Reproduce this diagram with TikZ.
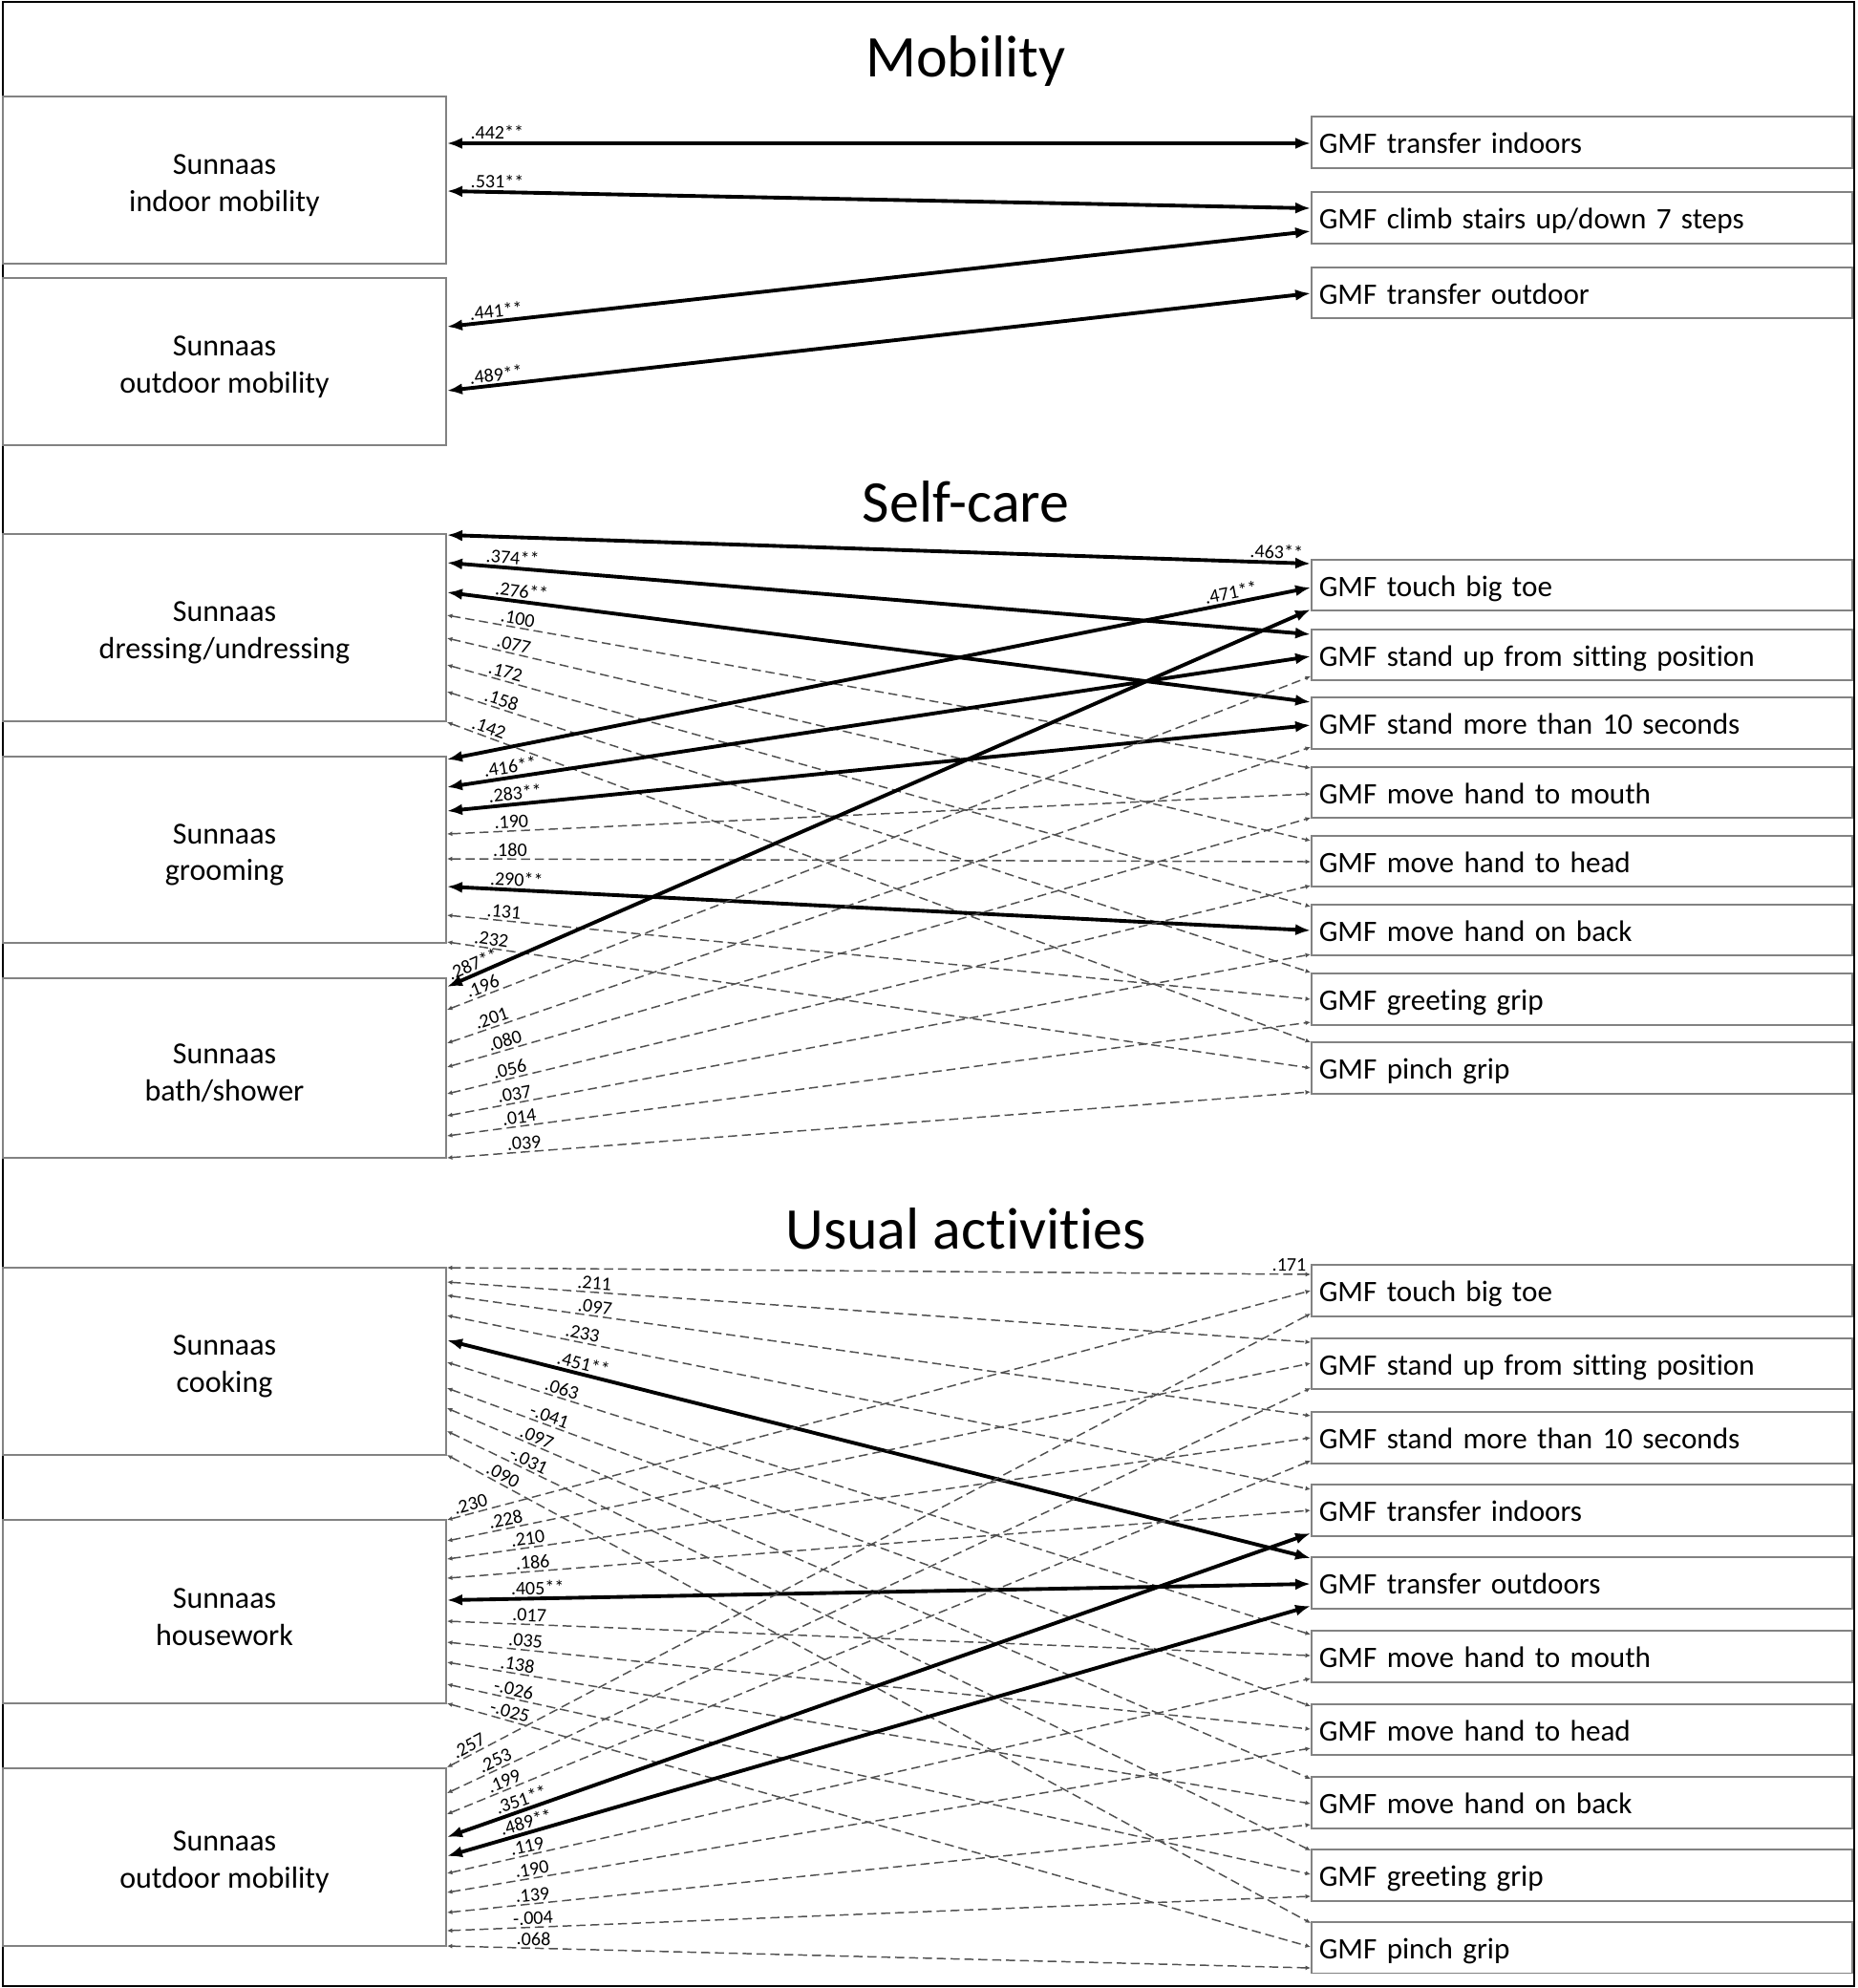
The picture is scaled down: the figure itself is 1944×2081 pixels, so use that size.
\documentclass[tikz,border=0pt]{standalone}
\usepackage{fontspec}
\setmainfont{Carlito}[Ligatures=NoCommon]
\usetikzlibrary{arrows.meta}
\definecolor{boxgray}{RGB}{130,130,130}
\definecolor{dashgray}{RGB}{80,80,80}
\newcommand\lk[7]{\draw[#1] (#2.east |- 0,#3) -- node[lbl,pos=#7]{#6} (#4.west |- 0,#5);}
\newcommand\dn[1]{\raisebox{-0.055cm}[\height][\depth]{#1}}
\begin{document}
\begin{tikzpicture}[x=0.01cm,y=-0.01cm,
  lbox/.style={draw=boxgray, line width=0.45pt, minimum width=4.64cm, align=center,
    font=\fontsize{9.1}{11}\selectfont, inner sep=0pt},
  rbox/.style={draw=boxgray, line width=0.45pt, minimum width=5.66cm, minimum height=0.535cm,
    text width=5.5cm, align=left, inner xsep=0.08cm, inner ysep=0pt,
    text height=0.25cm, text depth=0.02cm,
    font=\fontsize{8.85}{11}\selectfont},
  title/.style={font=\fontsize{17.6}{20}\selectfont, anchor=base},
  lbl/.style={font=\fontsize{5.7}{6}\selectfont, sloped, above, inner sep=0.6pt, text=black},
  sol/.style={draw=black, line width=1.1pt,
    {Latex[length=0.16cm,width=0.12cm]}-{Latex[length=0.16cm,width=0.12cm]}},
  das/.style={draw=dashgray, line width=0.42pt, dash pattern=on 0.095cm off 0.05cm,
    {Latex[length=0.055cm,width=0.05cm]}-{Latex[length=0.055cm,width=0.05cm]}}
]
\useasboundingbox (0,0) rectangle (1944,2081);
\draw[line width=0.6pt] (3,2) rectangle (1941,2079);

% ---------------- Mobility ----------------
\node[title] (tmob) at (1011,80) {Mobility};
\node[lbox, minimum height=1.75cm] (min) at (235,188.5) {\dn{Sunnaas}\\\dn{indoor mobility}};
\node[lbox, minimum height=1.75cm] (mout) at (235,378.5) {\dn{Sunnaas}\\\dn{outdoor mobility}};
\node[rbox] (mtrin) at (1656,149) {GMF transfer indoors};
\node[rbox] (mstairs) at (1656,228) {GMF climb stairs up/down 7 steps};
\node[rbox] (mtrout) at (1656,306.5) {GMF transfer outdoor};

\lk{sol}{min}{150}{mtrin}{150}{.442**}{0.058}
\lk{sol}{min}{200}{mstairs}{218}{.531**}{0.058}
\lk{sol}{mout}{342}{mstairs}{242}{.441**}{0.058}
\lk{sol}{mout}{409}{mtrout}{307}{.489**}{0.058}

% ---------------- Self-care ----------------
\node[title] (tself) at (1011,546) {Self-care};
\node[lbox, minimum height=1.96cm] (sdress) at (235,657) {\dn{Sunnaas}\\\dn{dressing/undressing}};
\node[lbox, minimum height=1.95cm] (sgroom) at (235,889.5) {\dn{Sunnaas}\\\dn{grooming}};
\node[lbox, minimum height=1.88cm] (sbath) at (235,1118) {\dn{Sunnaas}\\\dn{bath/shower}};
\node[rbox] (stoe) at (1656,612.5) {GMF touch big toe};
\node[rbox] (sup) at (1656,685.5) {GMF stand up from sitting position};
\node[rbox] (smore) at (1656,757) {GMF stand more than 10 seconds};
\node[rbox] (smouth) at (1656,829.5) {GMF move hand to mouth};
\node[rbox] (shead) at (1656,901.5) {GMF move hand to head};
\node[rbox] (sback) at (1656,973.5) {GMF move hand on back};
\node[rbox] (sgreet) at (1656,1046) {GMF greeting grip};
\node[rbox] (spinch) at (1656,1118) {GMF pinch grip};

\lk{sol}{sdress}{560}{stoe}{590}{.463**}{0.96}
\lk{sol}{sdress}{589}{sup}{664}{.374**}{0.075}
\lk{sol}{sdress}{620}{smore}{735}{.276**}{0.085}
\lk{das}{sdress}{644}{smouth}{804}{.100}{0.08}
\lk{das}{sdress}{668}{shead}{880}{.077}{0.075}
\lk{das}{sdress}{696}{sback}{949}{.172}{0.065}
\lk{das}{sdress}{724}{sgreet}{1018}{.158}{0.06}
\lk{das}{sdress}{756}{spinch}{1091}{.142}{0.045}

\lk{sol}{sgroom}{795}{stoe}{615}{.471**}{0.91}
\lk{sol}{sgroom}{824}{sup}{687}{.416**}{0.075}
\lk{sol}{sgroom}{849}{smore}{759}{.283**}{0.08}
\lk{das}{sgroom}{873}{smouth}{831}{.190}{0.075}
\lk{das}{sgroom}{899}{shead}{902}{.180}{0.073}
\lk{sol}{sgroom}{928}{sback}{974}{.290**}{0.08}
\lk{das}{sgroom}{958}{sgreet}{1046}{.131}{0.065}
\lk{das}{sgroom}{986}{spinch}{1118}{.232}{0.05}

\lk{sol}{sbath}{1033}{stoe}{638}{.287**}{0.035}
\lk{das}{sbath}{1057}{sup}{708}{.196}{0.045}
\lk{das}{sbath}{1092}{smore}{782}{.201}{0.055}
\lk{das}{sbath}{1117}{smouth}{856}{.080}{0.07}
\lk{das}{sbath}{1145}{shead}{927}{.056}{0.075}
\lk{das}{sbath}{1168}{sback}{999}{.037}{0.08}
\lk{das}{sbath}{1189}{sgreet}{1070}{.014}{0.085}
\lk{das}{sbath}{1212}{spinch}{1143}{.039}{0.09}

% ---------------- Usual activities ----------------
\node[title] (tusual) at (1011,1307) {Usual activities};
\node[lbox, minimum height=1.96cm] (ucook) at (235,1425) {\dn{Sunnaas}\\\dn{cooking}};
\node[lbox, minimum height=1.92cm] (uhouse) at (235,1687) {\dn{Sunnaas}\\\dn{housework}};
\node[lbox, minimum height=1.86cm] (uout) at (235,1944) {\dn{Sunnaas}\\\dn{outdoor mobility}};
\node[rbox] (utoe) at (1656,1351) {GMF touch big toe};
\node[rbox] (uup) at (1656,1427.5) {GMF stand up from sitting position};
\node[rbox] (umore) at (1656,1505) {GMF stand more than 10 seconds};
\node[rbox] (utrin) at (1656,1581) {GMF transfer indoors};
\node[rbox] (utrout) at (1656,1657) {GMF transfer outdoors};
\node[rbox] (umouth) at (1656,1734) {GMF move hand to mouth};
\node[rbox] (uhead) at (1656,1810.5) {GMF move hand to head};
\node[rbox] (uback) at (1656,1887) {GMF move hand on back};
\node[rbox] (ugreet) at (1656,1963) {GMF greeting grip};
\node[rbox] (upinch) at (1656,2038.5) {GMF pinch grip};

\lk{das}{ucook}{1327}{utoe}{1334}{.171}{0.975}
\lk{das}{ucook}{1342}{uup}{1405}{.211}{0.17}
\lk{das}{ucook}{1356}{umore}{1482}{.097}{0.17}
\lk{das}{ucook}{1377}{utrin}{1559}{.233}{0.155}
\lk{sol}{ucook}{1403}{utrout}{1631}{.451**}{0.155}
\lk{das}{ucook}{1426}{umouth}{1711}{.063}{0.13}
\lk{das}{ucook}{1453}{uhead}{1786}{-.041}{0.115}
\lk{das}{ucook}{1474}{uback}{1862}{.097}{0.1}
\lk{das}{ucook}{1498}{ugreet}{1937}{-.031}{0.09}
\lk{das}{ucook}{1523}{upinch}{2013}{.090}{0.06}

\lk{das}{uhouse}{1591}{utoe}{1351}{.230}{0.03}
\lk{das}{uhouse}{1613}{uup}{1427}{.228}{0.07}
\lk{das}{uhouse}{1632}{umore}{1505}{.210}{0.095}
\lk{das}{uhouse}{1652}{utrin}{1581}{.186}{0.1}
\lk{sol}{uhouse}{1675}{utrout}{1658}{.405**}{0.105}
\lk{das}{uhouse}{1697}{umouth}{1733}{.017}{0.095}
\lk{das}{uhouse}{1719}{uhead}{1810}{.035}{0.09}
\lk{das}{uhouse}{1740}{uback}{1888}{.138}{0.08}
\lk{das}{uhouse}{1763}{ugreet}{1962}{-.026}{0.075}
\lk{das}{uhouse}{1783}{upinch}{2038}{-.025}{0.07}

\lk{das}{uout}{1850}{utoe}{1375}{.257}{0.03}
\lk{das}{uout}{1877}{uup}{1453}{.253}{0.06}
\lk{das}{uout}{1899}{umore}{1529}{.199}{0.07}
\lk{sol}{uout}{1923}{utrin}{1605}{.351**}{0.09}
\lk{sol}{uout}{1943}{utrout}{1681}{.489**}{0.095}
\lk{das}{uout}{1961}{umouth}{1757}{.119}{0.095}
\lk{das}{uout}{1981}{uhead}{1830}{.190}{0.1}
\lk{das}{uout}{2002}{uback}{1910}{.139}{0.1}
\lk{das}{uout}{2021}{ugreet}{1985}{-.004}{0.1}
\lk{das}{uout}{2037}{upinch}{2060}{.068}{0.1}
\end{tikzpicture}
\end{document}
